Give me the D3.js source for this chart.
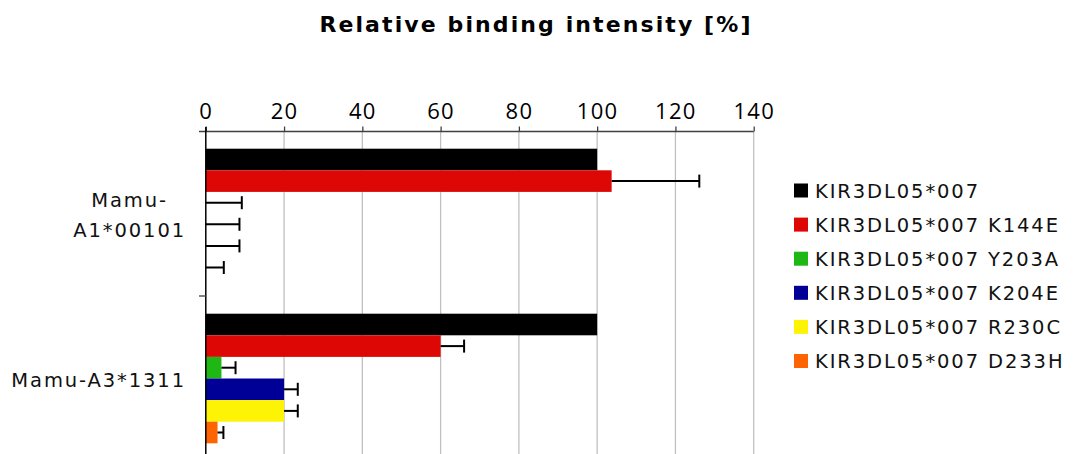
<!DOCTYPE html>
<html>
<head>
<meta charset="utf-8">
<script src="https://cdn.jsdelivr.net/npm/d3@7"></script>
<style>
  html, body { margin: 0; padding: 0; background: #fff; }
  svg { display: block; }
</style>
</head>
<body>
<svg id="chart" width="1077" height="454"></svg>
<script>
// Binding data: mean intensity relative to wild type, with error (one-sided)
const categories = ["Mamu-A1*00101", "Mamu-A3*1311"];
const categoryLines = [["Mamu-", "A1*00101"], ["Mamu-A3*1311"]];
const series = [
  "KIR3DL05*007",
  "KIR3DL05*007 K144E",
  "KIR3DL05*007 Y203A",
  "KIR3DL05*007 K204E",
  "KIR3DL05*007 R230C",
  "KIR3DL05*007 D233H"
];
const colors = ["#000000", "#dd0806", "#1fb714", "#000096", "#fcf305", "#ff6403"];
// values[s][c]
const values = [
  [100, 100],
  [103.7, 60],
  [0, 4],
  [0, 20],
  [0, 20],
  [0, 3]
];
const errors = [
  [0, 0],
  [22.4, 6],
  [9.2, 3.6],
  [8.6, 3.5],
  [8.6, 3.5],
  [4.6, 1.5]
];
const xTicks = [0, 20, 40, 60, 80, 100, 120, 140];
const title = "Relative binding intensity [%]";

const svg = d3.select("#chart");

const x = d3.scaleLinear().domain([0, 140]).range([205.8, 753.7]);
const y = d3.scaleBand().domain(categories).range([131, 461]).paddingInner(0).paddingOuter(0);
const barPad = 17.7;
const yInner = d3.scaleBand().domain(series)
  .range([barPad, y.bandwidth() - barPad]).paddingInner(0).paddingOuter(0);

// Vertical gridlines
svg.append("g")
  .selectAll("line")
  .data(xTicks.filter(d => d > 0))
  .join("line")
  .attr("x1", d => x(d)).attr("x2", d => x(d))
  .attr("y1", 131.5).attr("y2", 454)
  .attr("stroke", "#c0c0c0").attr("stroke-width", 1.3);

// Bars
const rows = [];
series.forEach((s, si) => {
  categories.forEach((c, ci) => {
    rows.push({ s, c, si, v: values[si][ci], e: errors[si][ci] });
  });
});

svg.append("g")
  .selectAll("rect")
  .data(rows.filter(d => d.v > 0))
  .join("rect")
  .attr("x", x(0))
  .attr("y", d => y(d.c) + yInner(d.s))
  .attr("width", d => x(d.v) - x(0))
  .attr("height", yInner.bandwidth())
  .attr("fill", d => colors[d.si]);

// Error bars
const eg = svg.append("g").attr("stroke", "#000").attr("stroke-width", 2).attr("fill", "none");
rows.filter(d => d.e > 0).forEach(d => {
  const cy = y(d.c) + yInner(d.s) + yInner.bandwidth() / 2;
  eg.append("line")
    .attr("x1", x(d.v)).attr("x2", x(d.v + d.e))
    .attr("y1", cy).attr("y2", cy);
  eg.append("line")
    .attr("x1", x(d.v + d.e)).attr("x2", x(d.v + d.e))
    .attr("y1", cy - 6.5).attr("y2", cy + 6.5);
});

// Top value axis
const xAxis = d3.axisTop(x).tickValues(xTicks).tickSize(5).tickPadding(8).tickFormat(d3.format("d"));
const gx = svg.append("g").attr("transform", "translate(0,131.5)").call(xAxis);
gx.select(".domain").remove();
gx.append("line").attr("x1", 199).attr("x2", x(140)).attr("y1", 0).attr("y2", 0)
  .attr("stroke", "#404040").attr("stroke-width", 1.5);
gx.selectAll(".tick line").attr("stroke", "#404040").attr("stroke-width", 1.3);
gx.selectAll(".tick text")
  .attr("fill", "#000")
  .attr("font-family", "'Open Sans', sans-serif")
  .attr("font-size", 22)
  .attr("letter-spacing", 1.3);

// Category axis
const yAxis = d3.axisLeft(y).tickSize(0).tickFormat("");
const gy = svg.append("g").attr("transform", `translate(${x(0)},0)`).call(yAxis);
gy.select(".domain").remove();
svg.append("line").attr("x1", x(0)).attr("x2", x(0)).attr("y1", 127).attr("y2", 454)
  .attr("stroke", "#000").attr("stroke-width", 1.5);
svg.append("g")
  .selectAll("line")
  .data([y.range()[0] + y.step(), y.range()[1]])
  .join("line")
  .attr("x1", 199).attr("x2", x(0))
  .attr("y1", d => d).attr("y2", d => d)
  .attr("stroke", "#404040").attr("stroke-width", 1.3);

// Category labels: block right-aligned, lines centred inside it
const labelRight = 186;
const lineH = 30;
categories.forEach((c, ci) => {
  const lines = categoryLines[ci];
  const cy = y(c) + y.bandwidth() / 2 + 1.5;
  const g = svg.append("g");
  const texts = lines.map((ln, li) => g.append("text")
    .text(ln)
    .attr("font-family", "'DejaVu Sans', sans-serif")
    .attr("font-size", 19.5)
    .attr("letter-spacing", 1.9)
    .attr("fill", "#111")
    .attr("text-anchor", "middle")
    .attr("y", cy + (li - (lines.length - 1) / 2) * lineH + 7));
  const w = d3.max(texts, t => t.node().getComputedTextLength());
  texts.forEach(t => t.attr("x", labelRight - w / 2));
});

// Legend
const legend = svg.append("g").attr("transform", "translate(794,190.5)");
const lg = legend.selectAll("g").data(series).join("g")
  .attr("transform", (d, i) => `translate(0,${i * 34.1})`);
lg.append("rect").attr("x", 0).attr("y", -7).attr("width", 14).attr("height", 14)
  .attr("fill", (d, i) => colors[i]);
lg.append("text").attr("x", 21).attr("y", 7.3)
  .text(d => d)
  .attr("font-family", "'DejaVu Sans', sans-serif")
  .attr("font-size", 19.5)
  .attr("letter-spacing", 1.9)
  .attr("fill", "#111");

// Title
svg.append("text")
  .attr("x", 536).attr("y", 31.7)
  .attr("text-anchor", "middle")
  .attr("font-family", "'DejaVu Sans', sans-serif")
  .attr("font-weight", "bold")
  .attr("font-size", 22)
  .attr("letter-spacing", 2.1)
  .attr("fill", "#000")
  .text(title);
</script>
</body>
</html>
